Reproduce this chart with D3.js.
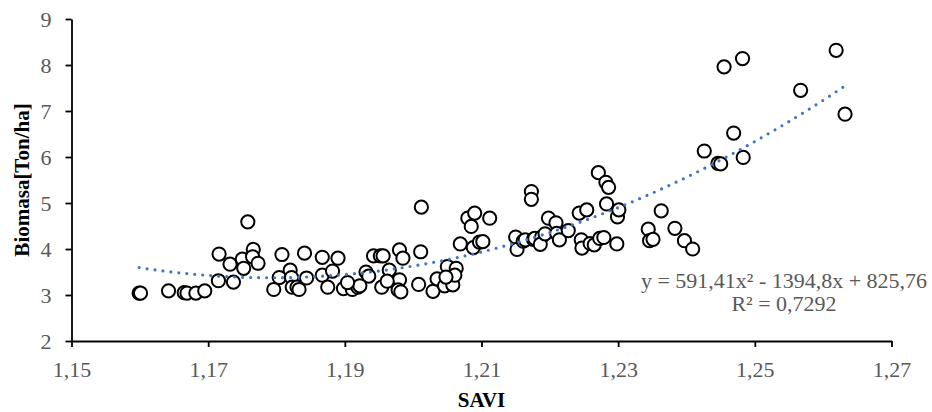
<!DOCTYPE html>
<html>
<head>
<meta charset="utf-8">
<script src="https://cdn.jsdelivr.net/npm/d3@7"></script>
<style>
  html, body { margin: 0; padding: 0; background: #fff; }
  svg { display: block; }
</style>
</head>
<body>
<svg id="chart" width="932" height="412"></svg>
<script>
// SAVI index per sample plot
const savi = [
  1.1599, 1.1601, 1.1642, 1.1665, 1.1669, 1.1682, 1.1695, 1.1716, 1.1715, 1.1732,
  1.1737, 1.1750, 1.1752, 1.1758, 1.1766, 1.1765, 1.1773, 1.1808, 1.1841, 1.1867,
  1.1890, 1.1942, 1.1952, 1.1956, 1.1980, 1.1985, 1.2011, 1.2012, 1.1820, 1.1804,
  1.1822, 1.1844, 1.1867, 1.1882, 1.1931, 1.1935, 1.1965, 1.1980, 1.1796, 1.1823,
  1.1830, 1.1833, 1.1875, 1.1898, 1.1911, 1.1919, 1.1922, 1.1954, 1.1978, 1.1982,
  1.1904, 1.1962, 1.2008, 1.2029, 1.2035, 1.2046, 1.2058, 1.2050, 1.2063, 1.2061,
  1.2048, 1.2069, 1.2088, 1.2080, 1.2085, 1.2090, 1.2097, 1.2102, 1.2112, 1.2150,
  1.2152, 1.2161, 1.2164, 1.2176, 1.2178, 1.2188, 1.2186, 1.2193, 1.2198, 1.2209,
  1.2173, 1.2173, 1.2210, 1.2214, 1.2227, 1.2243, 1.2254, 1.2246, 1.2247, 1.2259,
  1.2265, 1.2271, 1.2282, 1.2286, 1.2283, 1.2273, 1.2279, 1.2299, 1.2301, 1.2298,
  1.2344, 1.2346, 1.2351, 1.2363, 1.2383, 1.2397, 1.2409, 1.2426, 1.2446, 1.2450,
  1.2483, 1.2469, 1.2455, 1.2482, 1.2567, 1.2619, 1.2632
];

// Measured biomass [Ton/ha] for the same plots
const biomasa = [
  3.04, 3.04, 3.09, 3.05, 3.04, 3.04, 3.09, 3.89, 3.31, 3.67,
  3.28, 3.78, 3.58, 4.59, 3.99, 3.83, 3.69, 3.88, 3.91, 3.82,
  3.80, 3.85, 3.85, 3.85, 3.98, 3.80, 3.94, 4.91, 3.54, 3.38,
  3.38, 3.37, 3.43, 3.52, 3.50, 3.41, 3.54, 3.33, 3.12, 3.17,
  3.17, 3.12, 3.17, 3.14, 3.12, 3.17, 3.20, 3.17, 3.11, 3.07,
  3.27, 3.30, 3.23, 3.08, 3.35, 3.20, 3.22, 3.62, 3.58, 3.43,
  3.39, 4.11, 4.03, 4.67, 4.49, 4.78, 4.15, 4.16, 4.67, 4.26,
  3.99, 4.17, 4.20, 4.21, 4.23, 4.26, 4.10, 4.33, 4.67, 4.57,
  5.25, 5.08, 4.34, 4.20, 4.40, 4.78, 4.85, 4.20, 4.02, 4.12,
  4.09, 5.66, 5.45, 5.34, 4.98, 4.23, 4.25, 4.70, 4.85, 4.11,
  4.43, 4.18, 4.21, 4.83, 4.45, 4.18, 4.00, 6.13, 5.86, 5.85,
  5.99, 6.52, 7.96, 8.14, 7.45, 8.32, 6.93
];

// Polynomial trend (order 2): y = a*x^2 + b*x + c
const trendCoef = [591.41, -1394.8, 825.76];
const rSquared = 0.7292;

const xTicks = [1.15, 1.17, 1.19, 1.21, 1.23, 1.25, 1.27];
const yTicks = [2, 3, 4, 5, 6, 7, 8, 9];

const points = savi.map((s, i) => ({ x: s, y: biomasa[i] }));

const locale = d3.formatLocale({ decimal: ",", thousands: ".", grouping: [3], currency: ["", ""] });
const fmtX = locale.format(".2f");
const fmtNum = v => String(v).replace(".", ",");

const svg = d3.select("#chart");
const FONT = "'Liberation Serif', 'Times New Roman', serif";
const GREY = "#595959";

const x = d3.scaleLinear().domain([1.15, 1.27]).range([71.5, 891.5]);
const y = d3.scaleLinear().domain([2, 9]).range([341, 19]);

// Axes
const xAxis = svg.append("g")
  .attr("transform", `translate(0,${y(2)})`)
  .call(d3.axisBottom(x).tickValues(xTicks).tickFormat(fmtX).tickSize(6).tickSizeOuter(0).tickPadding(14));
const yAxis = svg.append("g")
  .attr("transform", `translate(${x(1.15)},0)`)
  .call(d3.axisLeft(y).tickValues(yTicks).tickFormat(d3.format("d")).tickSize(6).tickSizeOuter(0).tickPadding(14));

[xAxis, yAxis].forEach(g => {
  g.select(".domain").attr("stroke", "#000").attr("stroke-width", 1.8);
  g.selectAll(".tick line").attr("stroke", "#000").attr("stroke-width", 1.8);
  g.selectAll(".tick text")
    .attr("fill", GREY)
    .style("font-family", FONT)
    .style("font-size", "22px");
});

// Scatter points
svg.append("g")
  .selectAll("circle")
  .data(points)
  .join("circle")
  .attr("cx", d => x(d.x))
  .attr("cy", d => y(d.y))
  .attr("r", 6.6)
  .attr("fill", "#fff")
  .attr("stroke", "#000")
  .attr("stroke-width", 2);

// Trend line across the observed SAVI range
const poly = v => trendCoef[0] * v * v + trendCoef[1] * v + trendCoef[2];
const [xmin, xmax] = d3.extent(savi);
const trendPts = d3.range(0, 201).map(i => {
  const v = xmin + (xmax - xmin) * i / 200;
  return [v, poly(v)];
});
svg.append("path")
  .datum(trendPts)
  .attr("d", d3.line().x(d => x(d[0])).y(d => y(d[1])))
  .attr("fill", "none")
  .attr("stroke", "#4472C4")
  .attr("stroke-width", 3.2)
  .attr("stroke-linecap", "round")
  .attr("stroke-dasharray", "0 8");

// Trend equation and R²
const eq = svg.append("text")
  .attr("text-anchor", "middle")
  .attr("fill", GREY)
  .style("font-family", FONT)
  .style("font-size", "22px");
eq.append("tspan")
  .attr("x", 784).attr("y", 288)
  .text(`y = ${fmtNum(trendCoef[0])}x² - ${fmtNum(-trendCoef[1])}x + ${fmtNum(trendCoef[2])}`);
eq.append("tspan")
  .attr("x", 784).attr("y", 311)
  .text(`R² = ${fmtNum(rSquared)}`);

// Axis titles
svg.append("text")
  .attr("x", x(1.21)).attr("y", 407)
  .attr("text-anchor", "middle")
  .attr("fill", "#000")
  .style("font-family", FONT)
  .style("font-size", "21px")
  .style("font-weight", "bold")
  .text("SAVI");

svg.append("text")
  .attr("transform", `translate(29,${(y(2) + y(9)) / 2}) rotate(-90)`)
  .attr("text-anchor", "middle")
  .attr("fill", "#000")
  .style("font-family", FONT)
  .style("font-size", "21px")
  .style("font-weight", "bold")
  .text("Biomasa[Ton/ha]");
</script>
</body>
</html>
